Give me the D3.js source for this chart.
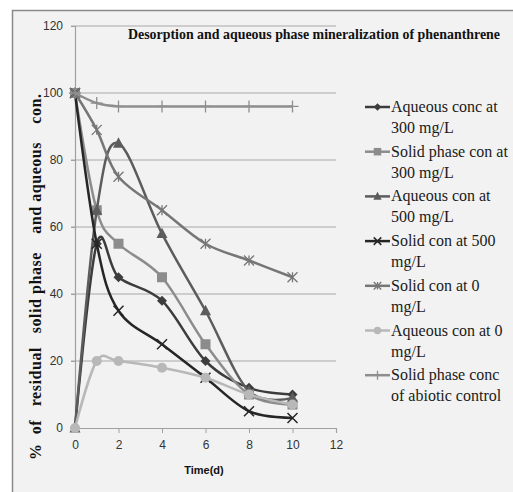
<!DOCTYPE html>
<html>
<head>
<meta charset="utf-8">
<script src="https://cdn.jsdelivr.net/npm/d3@7"></script>
<style>
body { margin: 0; background: #fff; }
</style>
</head>
<body>
<svg id="chart"></svg>
<script>
var width = 513, height = 492

var days = [0, 1, 2, 4, 6, 8, 10]
var seriesNames = [
    ["Aqueous conc at", "300 mg/L"],
    ["Solid phase con at", "300 mg/L"],
    ["Aqueous con at", "500 mg/L"],
    ["Solid con at 500", "mg/L"],
    ["Solid con at 0", "mg/L"],
    ["Aqueous con at 0", "mg/L"],
    ["Solid phase conc", "of abiotic control"]
]
var aq300 = [0, 55, 45, 38, 20, 12, 10]
var solid300 = [100, 65, 55, 45, 25, 10, 7]
var aq500 = [0, 65, 85, 58, 35, 11, 9]
var solid500 = [100, 55, 35, 25, 15, 5, 3]
var solid0 = [100, 89, 75, 65, 55, 50, 45]
var aq0 = [0, 20, 20, 18, 15, 10, 7]
var abiotic = [100, 97, 96, 96, 96, 96, 96]
var xTicks = [0, 2, 4, 6, 8, 10, 12]
var yTicks = [0, 20, 40, 60, 80, 100, 120]

var series = [
    { values: aq300, color: "#3c3c3c", marker: "diamond" },
    { values: solid300, color: "#8c8c8c", marker: "square" },
    { values: aq500, color: "#5c5c5c", marker: "triangle" },
    { values: solid500, color: "#262626", marker: "x" },
    { values: solid0, color: "#767676", marker: "star" },
    { values: aq0, color: "#b8b8b8", marker: "circle" },
    { values: abiotic, color: "#8e8e8e", marker: "plus" }
]

var svg = d3.select("#chart")
    .attr("width", width)
    .attr("height", height)

// frame
svg.append("rect")
    .attr("x", 12.5).attr("y", 10.5)
    .attr("width", width).attr("height", height)
    .attr("fill", "#f2f2f2")
    .attr("stroke", "#8a8a8a")
    .attr("stroke-width", 1.5)

var x = d3.scaleLinear().domain([0, 12]).range([75, 336])
var y = d3.scaleLinear().domain([0, 120]).range([428, 26])

// gridlines
svg.append("g")
    .selectAll("line")
    .data(yTicks.filter(d => d > 0))
    .enter()
    .append("line")
        .attr("x1", x(0) - 4).attr("x2", x(12))
        .attr("y1", d => y(d)).attr("y2", d => y(d))
        .attr("stroke", "#a8a8a8")
        .attr("stroke-width", 1.2)

var xAxis = svg.append("g")
    .attr("transform", "translate(0," + y(0) + ")")
    .call(d3.axisBottom(x).tickValues(xTicks).tickSize(5).tickPadding(7))
xAxis.select(".domain").attr("stroke", "#a0a0a0").attr("stroke-width", 1.2)
xAxis.selectAll(".tick line").attr("stroke", "#a0a0a0")
xAxis.selectAll("text")
    .attr("font-family", "Liberation Sans, Arial, sans-serif")
    .attr("font-size", 12)
    .attr("fill", "#333")

var yAxis = svg.append("g")
    .attr("transform", "translate(" + x(0) + ",0)")
    .call(d3.axisLeft(y).tickValues(yTicks).tickSize(4).tickPadding(8))
yAxis.select(".domain").attr("stroke", "#a0a0a0").attr("stroke-width", 1.2)
yAxis.selectAll(".tick line").attr("stroke", "#a0a0a0")
yAxis.selectAll("text")
    .attr("font-family", "Liberation Sans, Arial, sans-serif")
    .attr("font-size", 12)
    .attr("fill", "#333")

var line = d3.line()
    .x((d, i) => x(days[i]))
    .y(d => y(d))
    .curve(d3.curveCatmullRom.alpha(0))

function drawMarker(sel, type, color, s) {
    if (type == "diamond") {
        sel.append("path").attr("d", "M0," + (-s) + "L" + s + ",0L0," + s + "L" + (-s) + ",0Z").attr("fill", color)
    } else if (type == "square") {
        sel.append("rect").attr("x", -s).attr("y", -s).attr("width", 2 * s).attr("height", 2 * s).attr("fill", color)
    } else if (type == "triangle") {
        sel.append("path").attr("d", "M0," + (-s * 1.1) + "L" + s + "," + (s * 0.8) + "L" + (-s) + "," + (s * 0.8) + "Z").attr("fill", color)
    } else if (type == "circle") {
        sel.append("circle").attr("r", s).attr("fill", color)
    } else if (type == "x") {
        sel.append("path").attr("d", "M" + (-s) + "," + (-s) + "L" + s + "," + s + "M" + (-s) + "," + s + "L" + s + "," + (-s))
            .attr("stroke", color).attr("stroke-width", 1.5).attr("fill", "none")
    } else if (type == "star") {
        sel.append("path").attr("d", "M" + (-s) + "," + (-s) + "L" + s + "," + s + "M" + (-s) + "," + s + "L" + s + "," + (-s) + "M0," + (-s) + "L0," + s)
            .attr("stroke", color).attr("stroke-width", 1.3).attr("fill", "none")
    } else if (type == "plus") {
        sel.append("path").attr("d", "M" + (-s) + ",0L" + s + ",0M0," + (-s) + "L0," + s)
            .attr("stroke", color).attr("stroke-width", 1.3).attr("fill", "none")
    }
}

var sizes = { diamond: 5, square: 5, triangle: 5.5, circle: 5, x: 5, star: 5, plus: 6 }

var plot = svg.append("g")
series.forEach(function (s) {
    plot.append("path")
        .datum(s.values)
        .attr("d", line)
        .attr("fill", "none")
        .attr("stroke", s.color)
        .attr("stroke-width", 2.5)
    s.values.forEach(function (v, i) {
        var m = plot.append("g").attr("transform", "translate(" + x(days[i]) + "," + y(v) + ")")
        drawMarker(m, s.marker, s.color, sizes[s.marker])
    })
})

// title
svg.append("text")
    .attr("x", 128).attr("y", 39)
    .attr("font-family", "Liberation Serif, Times New Roman, serif")
    .attr("font-weight", "bold")
    .attr("font-size", 15.5)
    .attr("textLength", 372)
    .attr("lengthAdjust", "spacingAndGlyphs")
    .attr("fill", "#111")
    .text("Desorption and aqueous phase mineralization of phenanthrene")

// axis titles
svg.append("text")
    .attr("transform", "translate(41,460) rotate(-90)")
    .attr("font-family", "Liberation Serif, Times New Roman, serif")
    .attr("font-weight", "bold")
    .attr("font-size", 16)
    .attr("textLength", 366)
    .attr("lengthAdjust", "spacing")
    .attr("fill", "#111")
    .attr("xml:space", "preserve")
    .text("%  of   residual   solid phase    and aqueous    con.")

svg.append("text")
    .attr("x", 204).attr("y", 474)
    .attr("text-anchor", "middle")
    .attr("font-family", "Liberation Sans, Arial, sans-serif")
    .attr("font-weight", "bold")
    .attr("font-size", 11)
    .attr("fill", "#111")
    .text("Time(d)")

// legend
var legend = svg.append("g")
series.forEach(function (s, i) {
    var ly = 107 + i * 44.7
    var g = legend.append("g").attr("transform", "translate(0," + ly + ")")
    g.append("line")
        .attr("x1", 365).attr("x2", 390)
        .attr("stroke", s.color).attr("stroke-width", 2.5)
    var m = g.append("g").attr("transform", "translate(377.5,0)")
    drawMarker(m, s.marker, s.color, sizes[s.marker] * 0.75)
    var t = g.append("text")
        .attr("x", 391).attr("y", 5)
        .attr("font-family", "Liberation Serif, Times New Roman, serif")
        .attr("font-size", 16)
        .attr("fill", "#1a1a1a")
    t.append("tspan").attr("x", 391).attr("dy", 0).text(seriesNames[i][0])
    t.append("tspan").attr("x", 391).attr("dy", 21).text(seriesNames[i][1])
})
</script>
</body>
</html>
